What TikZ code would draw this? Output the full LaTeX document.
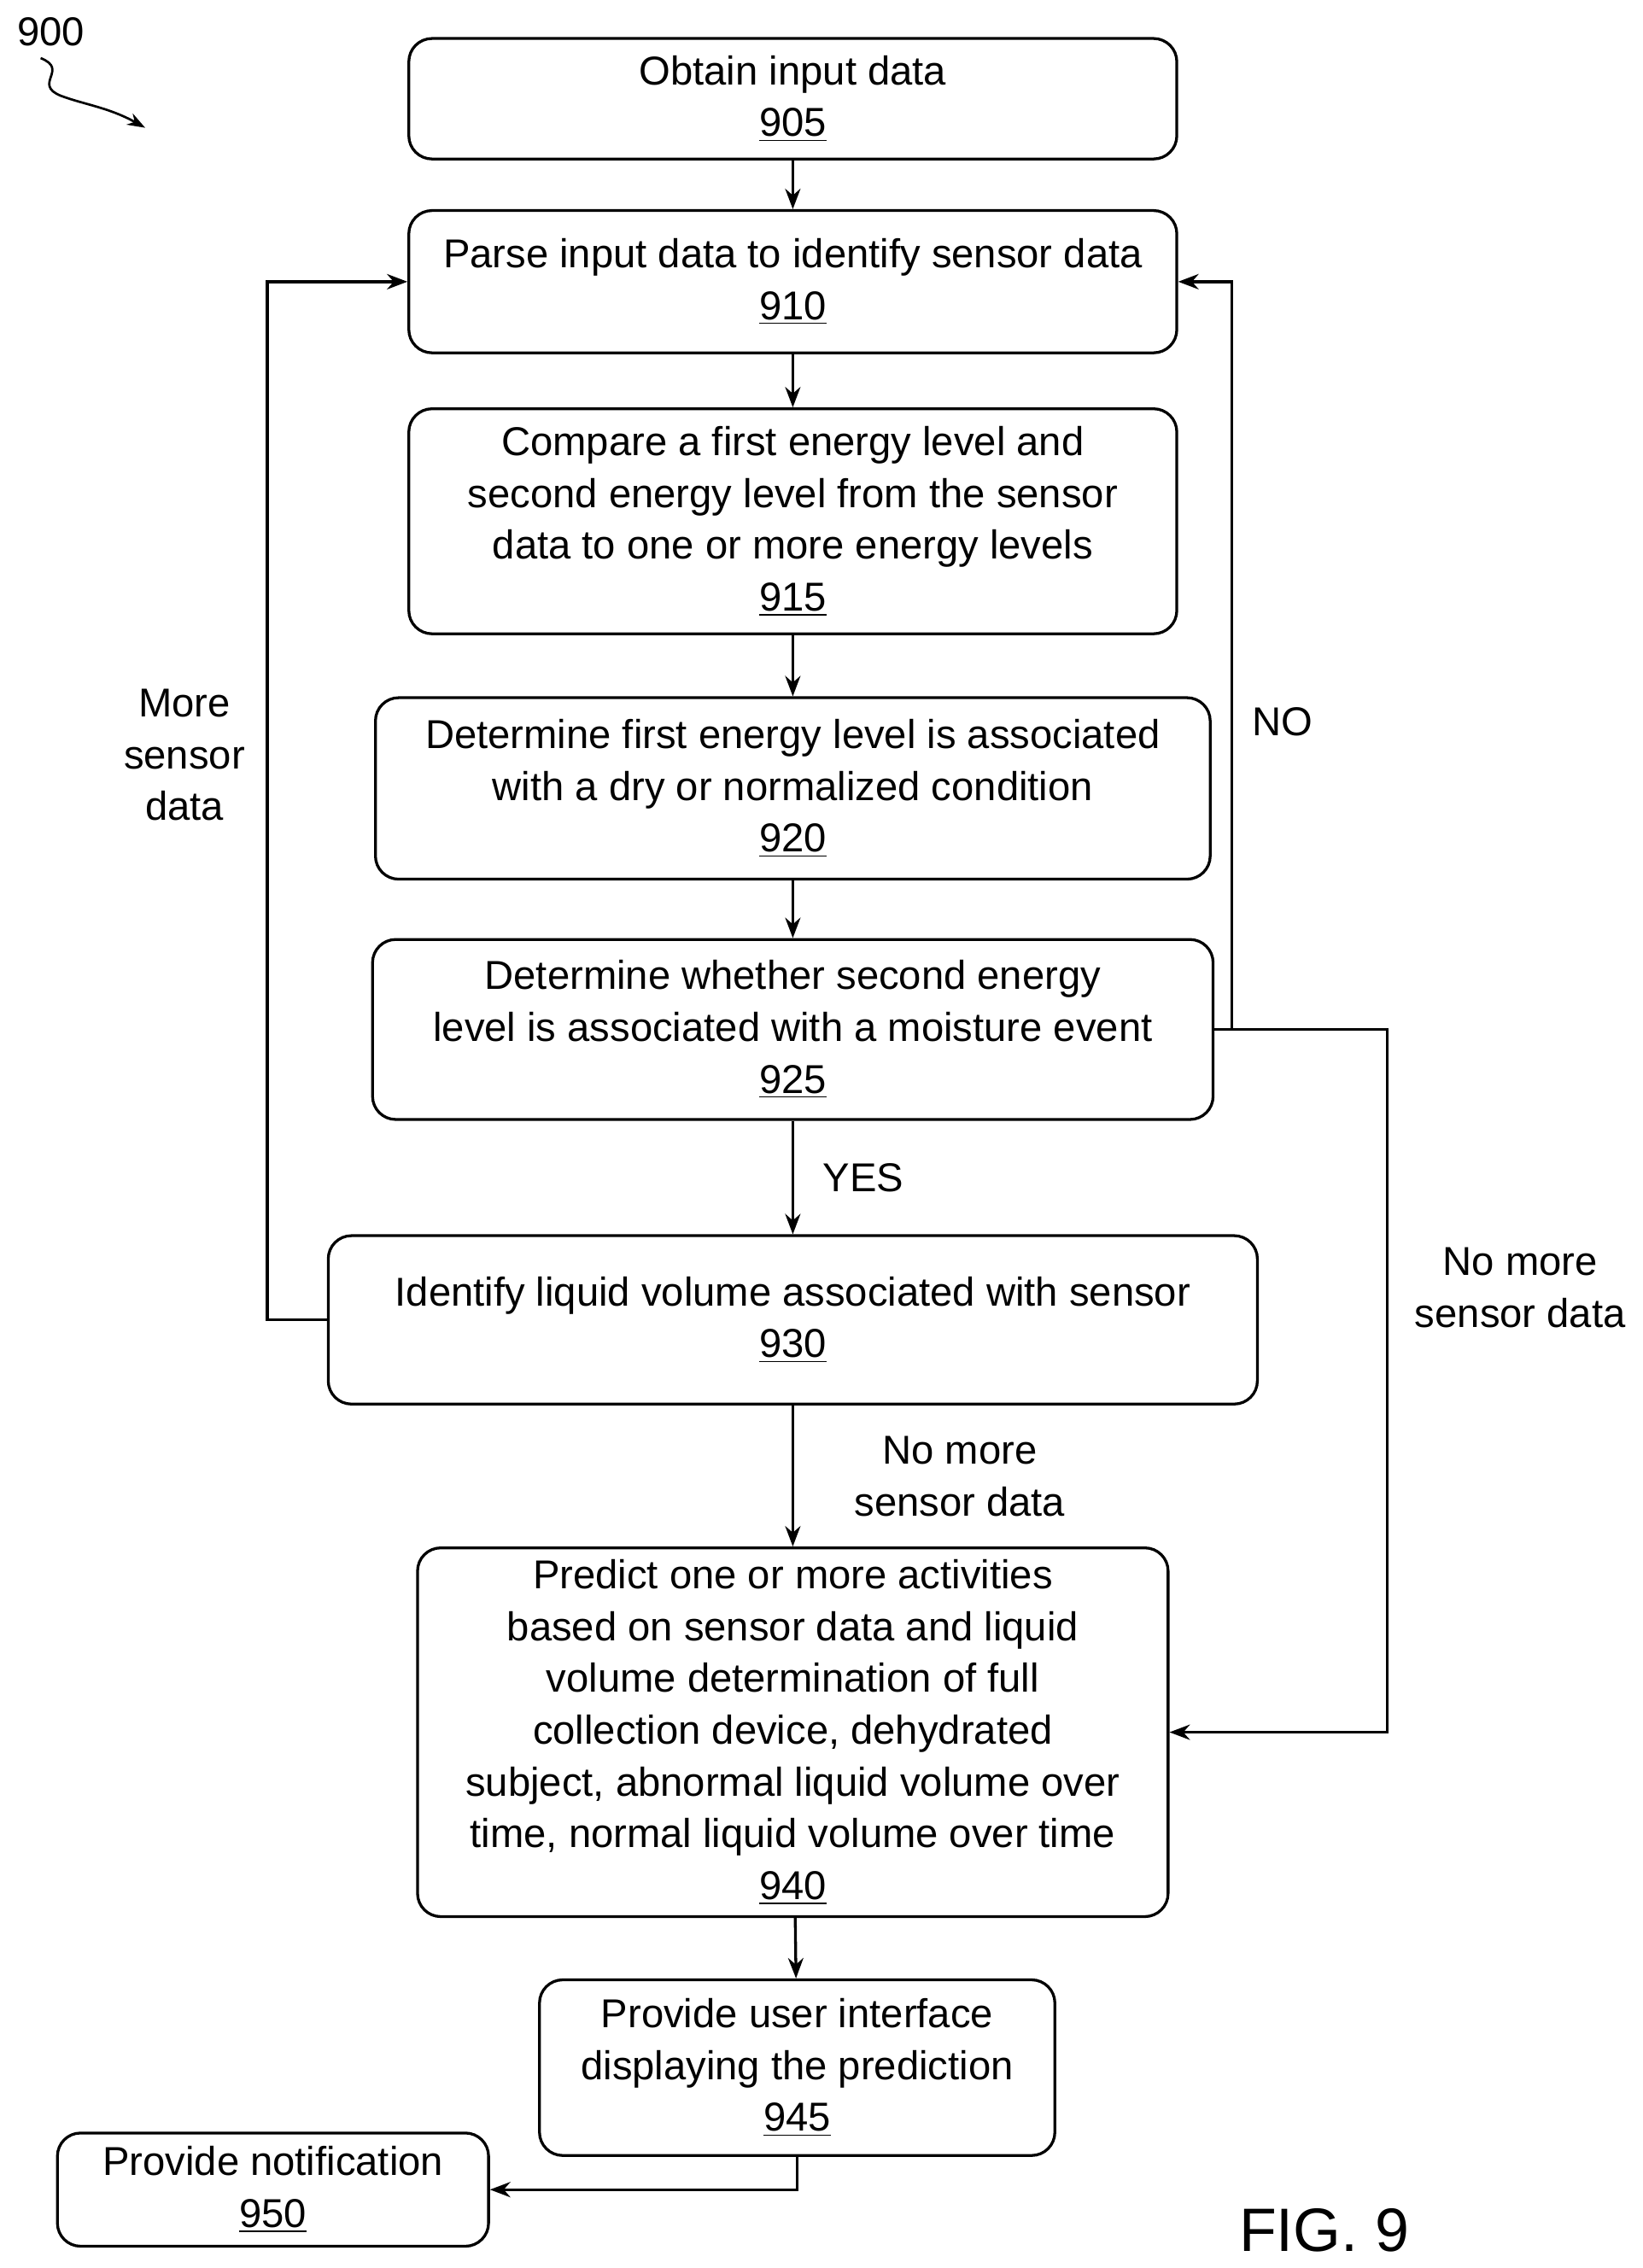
\documentclass[tikz,border=0pt]{standalone}
\usepackage{fontspec}
\setmainfont{Liberation Sans}
\usetikzlibrary{arrows.meta,decorations.pathmorphing}
\begin{document}
\begin{tikzpicture}[x=0.02cm,y=-0.02cm,
stepbox/.style={draw,line width=1.1pt,rounded corners=0.32cm,align=center,inner sep=0pt,
  font=\fontsize{15.8}{20.3}\selectfont},
flow/.style={line width=1.1pt,-{Stealth[length=8pt,width=6pt]}},
lbl/.style={align=center,font=\fontsize{15.8}{20.3}\selectfont}]
\useasboundingbox (0,0) rectangle (1131,1562);
% steps
\node[stepbox,minimum width=10.58cm,minimum height=1.66cm] (s905) at (546,68) {Obtain input data\\\underline{905}};
\node[stepbox,minimum width=10.58cm,minimum height=1.96cm] (s910) at (546,194) {Parse input data to identify sensor data\\\underline{910}};
\node[stepbox,minimum width=10.58cm,minimum height=3.1cm] (s915) at (546,359) {Compare a first energy level and\\second energy level from the sensor\\data to one or more energy levels\\\underline{915}};
\node[stepbox,minimum width=11.5cm,minimum height=2.5cm] (s920) at (546,543) {Determine first energy level is associated\\with a dry or normalized condition\\\underline{920}};
\node[stepbox,minimum width=11.58cm,minimum height=2.48cm] (s925) at (546,709) {Determine whether second energy\\level is associated with a moisture event\\\underline{925}};
\node[stepbox,minimum width=12.8cm,minimum height=2.32cm] (s930) at (546,909) {Identify liquid volume associated with sensor\\\underline{930}};
\node[stepbox,minimum width=10.34cm,minimum height=5.08cm] (s940) at (546,1193) {Predict one or more activities\\based on sensor data and liquid\\volume determination of full\\collection device, dehydrated\\subject, abnormal liquid volume over\\time, normal liquid volume over time\\\underline{940}};
\node[stepbox,minimum width=7.1cm,minimum height=2.42cm] (s945) at (549,1424) {Provide user interface\\displaying the prediction\\\underline{945}};
\node[stepbox,minimum width=5.94cm,minimum height=1.56cm] (s950) at (188,1508) {Provide notification\\\underline{950}};
% main flow
\draw[flow] (s905) -- (s910);
\draw[flow] (s910) -- (s915);
\draw[flow] (s915) -- (s920);
\draw[flow] (s920) -- (s925);
\draw[flow] (s925) -- node[lbl,right=8pt] {YES} (s930);
\draw[flow] (s930) -- (s940);
\draw[flow] (s940) -- (s945);
\draw[flow] (s945.south) |- (s950.east);
% loops
\draw[flow] (s930.west) -- ++(-41,0) |- (s910.west);
\draw[flow] (s925.east) -- ++(12,0) |- (s910.east);
\draw[flow] (s925.east) -- ++(119,0) |- (s940.east);
% labels
\node[lbl] (more) at (127,520) {More\\sensor\\data};
\node[lbl] (no) at (883,497) {NO};
\node[lbl] (nomore1) at (1047,887) {No more\\sensor data};
\node[lbl] (nomore2) at (661,1017) {No more\\sensor data};
\node[lbl] (fig) at (912,1536) {\fontsize{24}{26}\selectfont FIG. 9};
\node[lbl] (ref) at (35,22) {900};
\draw[line width=0.9pt,-{Stealth[length=7pt,width=5pt]}] (28,40) .. controls (48,48) and (22,58) .. (42,66) .. controls (58,72) and (75,74) .. (100,88);
\end{tikzpicture}
\end{document}
